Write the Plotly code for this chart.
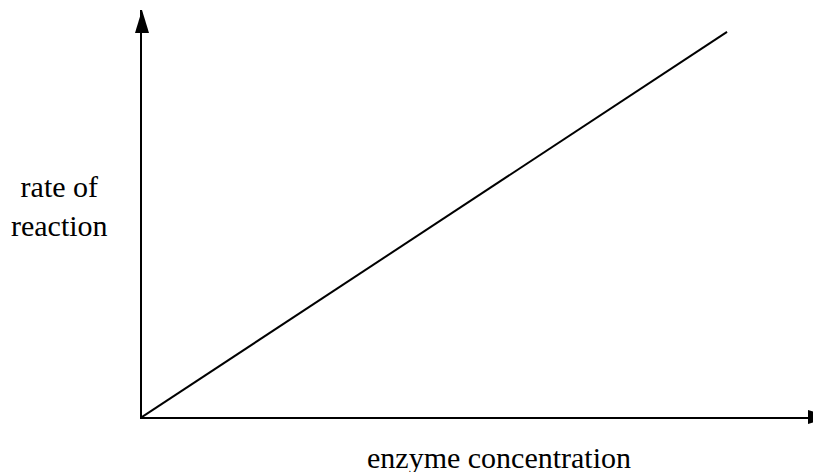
import plotly.graph_objects as go

# data
enzyme_concentration = [0, 10]
rate_of_reaction = [0, 10]
x_label = "enzyme concentration"
y_label = "rate of<br>reaction"

# page body has an 8px margin, so the figure is drawn 8px smaller and shifted
W, H = 813, 464
ml, mr, mt, mb = 134, 0, 2, 55

fig = go.Figure()
fig.add_trace(go.Scatter(
    x=enzyme_concentration, y=rate_of_reaction, mode="lines",
    line=dict(color="black", width=2), cliponaxis=False, hoverinfo="skip",
))

font = dict(family="Liberation Serif, Times New Roman, serif", size=30, color="black")

fig.update_layout(
    width=W, height=H,
    margin=dict(l=ml, r=mr, t=mt, b=mb, pad=0),
    paper_bgcolor="white", plot_bgcolor="white",
    showlegend=False,
    xaxis=dict(range=[0, 11.606], showline=True, linecolor="black", linewidth=2,
               showgrid=False, zeroline=False, showticklabels=False, ticks=""),
    yaxis=dict(range=[0, 10.57], showline=True, linecolor="black", linewidth=2,
               showgrid=False, zeroline=False, showticklabels=False, ticks=""),
    shapes=[
        # y-axis arrowhead
        dict(type="path", xref="paper", yref="paper", xsizemode="pixel", ysizemode="pixel",
             xanchor=0, yanchor=1, path="M -7,-23 L 7,-23 L 0,0 Z",
             fillcolor="black", line=dict(color="black", width=0)),
        # x-axis arrowhead
        dict(type="path", xref="paper", yref="paper", xsizemode="pixel", ysizemode="pixel",
             xanchor=1, yanchor=0, path="M -13,-7 L -13,7 L 10,0 Z",
             fillcolor="black", line=dict(color="black", width=0)),
    ],
    annotations=[
        dict(text=y_label, xref="paper", yref="paper", x=-0.1208, y=0.518,
             xanchor="center", yanchor="middle", showarrow=False, font=font, align="center"),
        dict(text=x_label, xref="paper", yref="paper", x=0.5265, y=-0.0983,
             xanchor="center", yanchor="middle", showarrow=False, font=font),
    ],
)

fig.write_html("out.html")
